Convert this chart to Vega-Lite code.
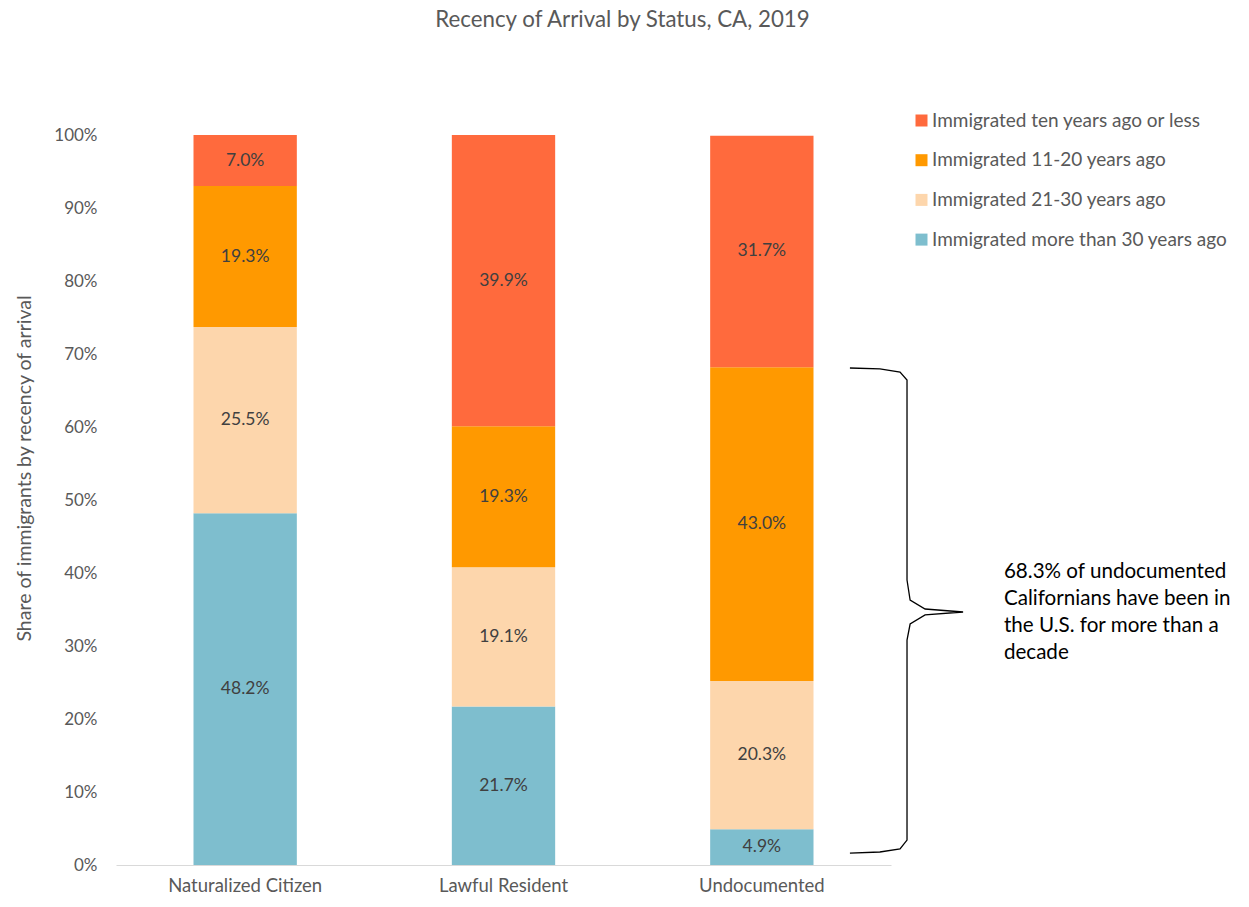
{
  "$schema": "https://vega.github.io/schema/vega-lite/v6.json",
  "width": 775,
  "height": 730,
  "autosize": {"type": "none"},
  "padding": {"left": 116, "top": 135, "right": 358, "bottom": 42},
  "background": "white",
  "config": {"font": "Lato", "view": {"stroke": null}},
  "title": {
    "text": "Recency of Arrival by Status, CA, 2019",
    "fontSize": 22.3,
    "fontWeight": "normal",
    "color": "#595959",
    "anchor": "middle",
    "frame": "group",
    "dx": 119,
    "offset": 80
  },
  "datasets": {
    "bars": [
      {"status": "Naturalized Citizen", "group": "Immigrated more than 30 years ago", "rank": 1, "value": 0.482},
      {"status": "Naturalized Citizen", "group": "Immigrated 21-30 years ago", "rank": 2, "value": 0.255},
      {"status": "Naturalized Citizen", "group": "Immigrated 11-20 years ago", "rank": 3, "value": 0.193},
      {"status": "Naturalized Citizen", "group": "Immigrated ten years ago or less", "rank": 4, "value": 0.070},
      {"status": "Lawful Resident", "group": "Immigrated more than 30 years ago", "rank": 1, "value": 0.217},
      {"status": "Lawful Resident", "group": "Immigrated 21-30 years ago", "rank": 2, "value": 0.191},
      {"status": "Lawful Resident", "group": "Immigrated 11-20 years ago", "rank": 3, "value": 0.193},
      {"status": "Lawful Resident", "group": "Immigrated ten years ago or less", "rank": 4, "value": 0.399},
      {"status": "Undocumented", "group": "Immigrated more than 30 years ago", "rank": 1, "value": 0.049},
      {"status": "Undocumented", "group": "Immigrated 21-30 years ago", "rank": 2, "value": 0.203},
      {"status": "Undocumented", "group": "Immigrated 11-20 years ago", "rank": 3, "value": 0.430},
      {"status": "Undocumented", "group": "Immigrated ten years ago or less", "rank": 4, "value": 0.317}
    ],
    "brace": [
      {"o": 1, "pos": 2.841, "value": 0.6808},
      {"o": 2, "pos": 2.957, "value": 0.6795},
      {"o": 3, "pos": 3.035, "value": 0.6753},
      {"o": 4, "pos": 3.062, "value": 0.6644},
      {"o": 5, "pos": 3.062, "value": 0.3904},
      {"o": 6, "pos": 3.074, "value": 0.3630},
      {"o": 7, "pos": 3.132, "value": 0.3507},
      {"o": 8, "pos": 3.279, "value": 0.3466},
      {"o": 9, "pos": 3.132, "value": 0.3425},
      {"o": 10, "pos": 3.074, "value": 0.3301},
      {"o": 11, "pos": 3.062, "value": 0.3082},
      {"o": 12, "pos": 3.062, "value": 0.0342},
      {"o": 13, "pos": 3.035, "value": 0.0219},
      {"o": 14, "pos": 2.957, "value": 0.0178},
      {"o": 15, "pos": 2.841, "value": 0.0164}
    ],
    "note": [
      {"pos": 3.437, "value": 0.4014, "line": "68.3% of undocumented"},
      {"pos": 3.437, "value": 0.3644, "line": "Californians have been in"},
      {"pos": 3.437, "value": 0.3274, "line": "the U.S. for more than a"},
      {"pos": 3.437, "value": 0.2904, "line": "decade"}
    ]
  },
  "layer": [
    {
      "data": {"name": "bars"},
      "mark": {"type": "bar", "width": {"band": 0.4}},
      "encoding": {
        "x": {
          "field": "status", "type": "nominal", "sort": null,
          "scale": {"paddingInner": 0, "paddingOuter": 0},
          "axis": {"title": null, "labelAngle": 0, "labelFontSize": 18.5, "labelColor": "#595959", "ticks": false, "domainColor": "#D9D9D9", "domainWidth": 1, "labelPadding": 11}
        },
        "y": {
          "field": "value", "type": "quantitative", "stack": "zero",
          "scale": {"domain": [0, 1], "nice": false},
          "axis": {"title": "Share of immigrants by recency of arrival", "titleFontSize": 19.5, "titleFontWeight": "normal", "titleColor": "#595959", "titlePadding": 19, "titleY": 333, "format": ".0%", "values": [0, 0.1, 0.2, 0.3, 0.4, 0.5, 0.6, 0.7, 0.8, 0.9, 1], "labelFontSize": 17, "labelColor": "#595959", "labelPadding": 19, "ticks": false, "domain": false, "grid": false}
        },
        "color": {
          "field": "group", "type": "nominal",
          "scale": {
            "domain": ["Immigrated ten years ago or less", "Immigrated 11-20 years ago", "Immigrated 21-30 years ago", "Immigrated more than 30 years ago"],
            "range": ["#FF6A3D", "#FF9900", "#FDD6AC", "#7EBECE"]
          },
          "legend": {"title": null, "orient": "none", "legendX": 796, "legendY": -24, "padding": 0, "symbolType": "square", "symbolSize": 144, "symbolStrokeWidth": 0, "labelFontSize": 19, "labelColor": "#595959", "labelOffset": 1, "rowPadding": 19.7, "labelLimit": 400}
        },
        "order": {"field": "rank", "type": "quantitative"}
      }
    },
    {
      "data": {"name": "bars"},
      "mark": {"type": "text", "fontSize": 17.5, "color": "#404040", "baseline": "middle"},
      "encoding": {
        "x": {"field": "status", "type": "nominal", "sort": null, "axis": null},
        "y": {"field": "value", "type": "quantitative", "stack": "zero", "bandPosition": 0.5},
        "text": {"field": "value", "type": "quantitative", "format": ".1%"},
        "order": {"field": "rank", "type": "quantitative"}
      }
    },
    {
      "encoding": {
        "x": {"field": "pos", "type": "quantitative", "scale": {"domain": [0, 3], "nice": false, "zero": false}, "axis": null}
      },
      "layer": [
        {
          "data": {"name": "brace"},
          "mark": {"type": "line", "color": "#000000", "strokeWidth": 1.3, "interpolate": "linear"},
          "encoding": {
            "y": {"field": "value", "type": "quantitative"},
            "order": {"field": "o", "type": "quantitative"}
          }
        },
        {
          "data": {"name": "note"},
          "mark": {"type": "text", "align": "left", "baseline": "middle", "fontSize": 20.6, "color": "#000000"},
          "encoding": {
            "y": {"field": "value", "type": "quantitative"},
            "text": {"field": "line", "type": "nominal"}
          }
        }
      ]
    }
  ],
  "resolve": {"scale": {"x": "independent"}, "axis": {"x": "independent"}}
}
